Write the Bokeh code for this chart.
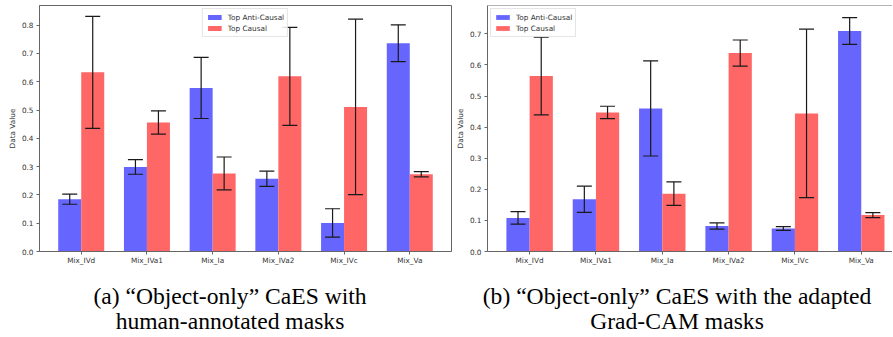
import numpy as np
from bokeh.plotting import figure
from bokeh.models import (Range1d, FixedTicker, NumeralTickFormatter, ColumnDataSource,
                          Whisker, TeeHead, Legend, LegendItem, Div, Span)
from bokeh.layouts import row, column
from bokeh.embed import file_html
from bokeh.resources import INLINE

categories = ["Mix_IVd", "Mix_IVa1", "Mix_Ia", "Mix_IVa2", "Mix_IVc", "Mix_Va"]
series_labels = ["Top Anti-Causal", "Top Causal"]

# (a) human-annotated masks
a_anti = [0.185, 0.299, 0.578, 0.257, 0.101, 0.736]
a_anti_err = [0.018, 0.026, 0.108, 0.027, 0.050, 0.065]
a_causal = [0.633, 0.456, 0.276, 0.619, 0.511, 0.273]
a_causal_err = [0.198, 0.041, 0.058, 0.173, 0.310, 0.009]

# (b) adapted Grad-CAM masks
b_anti = [0.108, 0.168, 0.460, 0.082, 0.074, 0.709]
b_anti_err = [0.020, 0.042, 0.153, 0.010, 0.006, 0.043]
b_causal = [0.564, 0.447, 0.186, 0.638, 0.444, 0.117]
b_causal_err = [0.125, 0.020, 0.038, 0.042, 0.271, 0.008]

a_yticks = [0.0, 0.1, 0.2, 0.3, 0.4, 0.5, 0.6, 0.7, 0.8]
b_yticks = [0.0, 0.1, 0.2, 0.3, 0.4, 0.5, 0.6, 0.7]

caption_a = ["(a) \u201cObject-only\u201d CaES with", "human-annotated masks"]
caption_b = ["(b) \u201cObject-only\u201d CaES with the adapted", "Grad-CAM masks"]

BLUE = "#6666ff"
RED = "#ff6666"
SPINE = "#666666"
TXT = "#333333"
ERR = "#1a1a1a"
BAR_W = 0.35


def make_chart(anti, anti_err, causal, causal_err, yticks, y_end, x_end, width,
               border_left, border_right, legend_loc, full_outline):
    idx = np.arange(len(categories))
    p = figure(width=width, height=268, output_backend="svg", toolbar_location=None,
               x_range=Range1d(-0.635, x_end), y_range=Range1d(0, y_end),
               min_border_left=border_left, min_border_right=border_right,
               min_border_top=5, min_border_bottom=17)
    p.xgrid.visible = False
    p.ygrid.visible = False
    if full_outline:
        p.outline_line_color = SPINE
        p.outline_line_width = 1
    else:
        p.outline_line_color = None
        p.add_layout(Span(location=y_end, dimension="width", line_color=SPINE, line_width=1))

    anti = np.array(anti); causal = np.array(causal)
    anti_err = np.array(anti_err); causal_err = np.array(causal_err)
    src_a = ColumnDataSource(dict(x=idx - BAR_W / 2, top=anti,
                                  upper=anti + anti_err, lower=anti - anti_err))
    src_c = ColumnDataSource(dict(x=idx + BAR_W / 2, top=causal,
                                  upper=causal + causal_err, lower=causal - causal_err))
    r_a = p.vbar(x="x", top="top", width=BAR_W, source=src_a, fill_color=BLUE, line_color=None)
    r_c = p.vbar(x="x", top="top", width=BAR_W, source=src_c, fill_color=RED, line_color=None)
    for src in (src_a, src_c):
        w = Whisker(base="x", upper="upper", lower="lower", source=src, dimension="height",
                    level="annotation", line_color=ERR, line_width=1.2,
                    upper_head=TeeHead(size=15, line_color=ERR, line_width=1.2),
                    lower_head=TeeHead(size=15, line_color=ERR, line_width=1.2))
        p.add_layout(w)

    xa = p.xaxis[0]
    xa.ticker = FixedTicker(ticks=list(idx))
    xa.major_label_overrides = {int(i): c for i, c in zip(idx, categories)}
    ya = p.yaxis[0]
    ya.ticker = FixedTicker(ticks=yticks)
    ya.formatter = NumeralTickFormatter(format="0.0")
    ya.axis_label = "Data Value"
    ya.axis_label_text_font = "DejaVu Sans"
    ya.axis_label_text_font_size = "7.3px"
    ya.axis_label_text_font_style = "normal"
    ya.axis_label_text_color = TXT
    ya.axis_label_standoff = 2
    for ax in (xa, ya):
        ax.axis_line_color = SPINE
        ax.axis_line_width = 1
        ax.major_tick_line_color = SPINE
        ax.major_tick_out = 3
        ax.major_tick_in = 0
        ax.minor_tick_line_color = None
        ax.major_label_text_font = "DejaVu Sans"
        ax.major_label_text_font_size = "7.3px"
        ax.major_label_text_color = TXT
    xa.major_label_standoff = 1
    ya.major_label_standoff = 3

    legend = Legend(items=[LegendItem(label=series_labels[0], renderers=[r_a]),
                           LegendItem(label=series_labels[1], renderers=[r_c])],
                    location=legend_loc)
    legend.glyph_width = 17
    legend.glyph_height = 6
    legend.label_height = 10
    legend.label_standoff = 5
    legend.label_text_font = "DejaVu Sans"
    legend.label_text_font_size = "7.3px"
    legend.label_text_color = TXT
    legend.padding = 3
    legend.spacing = 1
    legend.margin = 3
    legend.border_line_color = "#cccccc"
    legend.border_line_width = 1
    legend.background_fill_alpha = 0.85
    p.add_layout(legend)
    return p


# left chart: frame 39..451 px; right chart: frame ~488..892 px (66 px per category)
p1 = make_chart(a_anti, a_anti_err, a_causal, a_causal_err, a_yticks,
                246 / 283.0, 5.635, 452, 39, 1, "top_center", True)
p2 = make_chart(b_anti, b_anti_err, b_causal, b_causal_err, b_yticks,
                246 / 311.0, -0.635 + 403 / 66.0, 440, 31, 0, "top_left", False)


def block(lines, center):
    return ('<div style="position:absolute;top:16px;left:%dpx;width:420px;'
            'text-align:center;white-space:nowrap;">%s</div>' % (center - 210, "<br>".join(lines)))


html = ('<div style="position:relative;width:892px;height:68px;'
        'font-family:\'Liberation Serif\',\'Times New Roman\',serif;font-size:23.6px;'
        'line-height:25px;color:#000;">' + block(caption_a, 230) + block(caption_b, 677) + '</div>')
cap = Div(text=html, width=892, height=68, margin=(0, 0, 0, 0))

layout = column(row(p1, p2), cap)
open("out.html", "w").write(file_html(layout, INLINE))
